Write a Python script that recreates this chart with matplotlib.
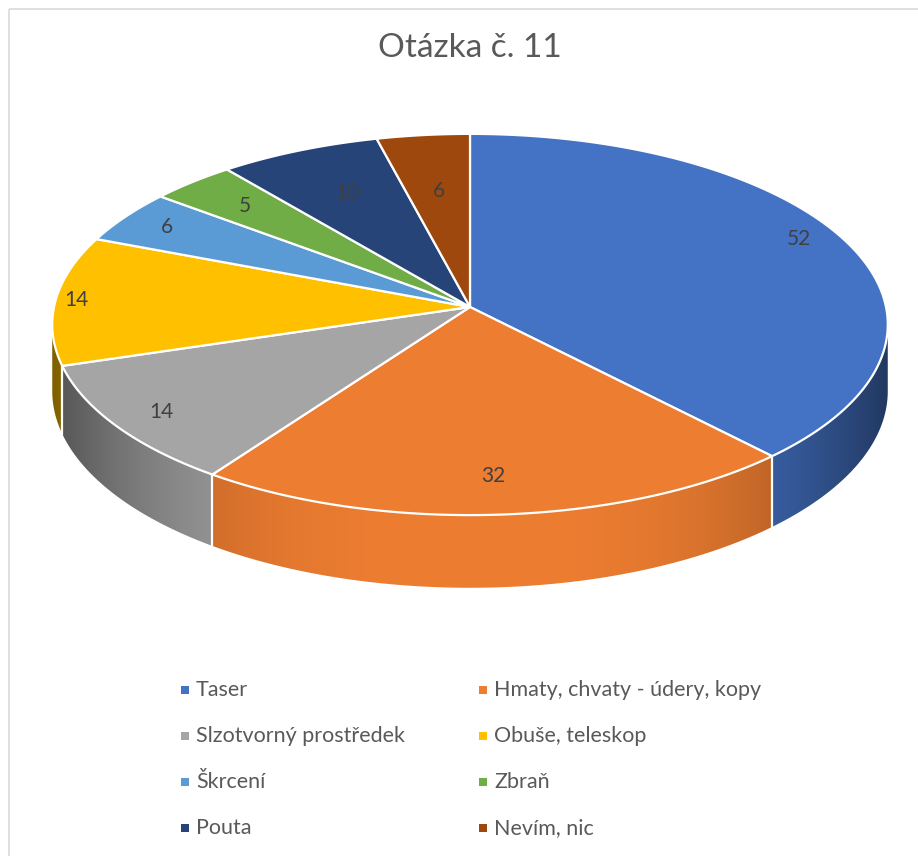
import numpy as np
import matplotlib.pyplot as plt
from matplotlib.patches import Polygon, Rectangle
from matplotlib.colors import to_rgb

# data
labels = ['Taser', 'Hmaty, chvaty - údery, kopy', 'Slzotvorný prostředek',
          'Obuše, teleskop', 'Škrcení', 'Zbraň', 'Pouta', 'Nevím, nic']
values = [52, 32, 14, 14, 6, 5, 10, 6]
colors = ['#4472C4', '#ED7D31', '#A5A5A5', '#FFC000',
          '#5B9BD5', '#70AD47', '#264478', '#9E480E']
title = 'Otázka č. 11'

plt.rcParams['font.family'] = ['Lato', 'DejaVu Sans']

W, H = 918, 856
fig = plt.figure(figsize=(W / 100, H / 100), dpi=100)
ax = fig.add_axes([0, 0, 1, 1])
ax.set_xlim(0, W)
ax.set_ylim(H, 0)
ax.axis('off')

# 3D look: simple perspective of a tilted disk
cx, cy = 470, 307
A, B = 416, 189     # horizontal / depth radius in pixels
k = 0.0918          # perspective strength
D = 66              # wall height


def warp(t):
    # small angular correction seen in Excel's 3D pie
    return t - np.radians(2.7) * np.sin(2 * t)


def proj(t, r=1.0, z=0.0):
    X = r * np.sin(t)
    Y = -r * np.cos(t)
    s = 1.0 / (1.0 - k * Y)
    return cx + A * X * s, cy + (B * Y + z) * s


total = sum(values)
bounds = np.concatenate([[0], np.cumsum(values)]) / total * 2 * np.pi
phis = warp(bounds)

# horizontal shading for the walls
xpix = np.arange(W) + 0.5
shade = 1 - 0.5 * np.clip(np.abs(xpix - cx) / A, 0, 1) ** 3

# side walls (front half only)
lo, hi = np.pi / 2 + np.arcsin(k), 1.5 * np.pi - np.arcsin(k)
for i, c in enumerate(colors):
    a0, a1 = max(phis[i], lo), min(phis[i + 1], hi)
    if a1 <= a0:
        continue
    ts = np.linspace(a0, a1, 200)
    xt, yt = proj(ts)
    xb, yb = proj(ts[::-1], z=D)
    poly = Polygon(list(zip(xt, yt)) + list(zip(xb, yb)), closed=True,
                   facecolor='none', edgecolor='none')
    ax.add_patch(poly)
    img = np.tile((shade[:, None] * np.array(to_rgb(c)))[None, :, :], (2, 1, 1))
    im = ax.imshow(img, extent=[0, W, H, 0], aspect='auto',
                   interpolation='bilinear', zorder=1)
    im.set_clip_path(poly)
# white seams between walls
for p in phis[1:-1]:
    if lo < p < hi:
        x0, y0 = proj(p)
        x1, y1 = proj(p, z=D)
        ax.plot([x0, x1], [y0, y1], color='white', lw=1.6, zorder=2)
ax.set_xlim(0, W)
ax.set_ylim(H, 0)

# top face
for i, c in enumerate(colors):
    ts = np.linspace(phis[i], phis[i + 1], 200)
    xs, ys = proj(ts)
    pts = [(cx, cy)] + list(zip(xs, ys))
    ax.add_patch(Polygon(pts, closed=True, facecolor=c, edgecolor='white',
                         lw=1.6, joinstyle='round', zorder=3))

# data labels
mids = warp((bounds[:-1] + bounds[1:]) / 2)
for v, t in zip(values, mids):
    r = 0.65 + 0.3 * np.sin(t) ** 2 + 0.18 * max(0.0, -np.cos(t)) ** 3
    lx, ly = proj(t, r)
    ax.text(lx, ly, str(v), ha='center', va='center', fontsize=15,
            color='#404040', zorder=5)

# title
ax.text(470, 48, title, ha='center', va='center', fontsize=24,
        color='#595959')

# legend
for i, (lab, c) in enumerate(zip(labels, colors)):
    col, row = i % 2, i // 2
    x0 = [185, 483][col]
    y0 = 690 + row * 46
    ax.add_patch(Rectangle((x0 - 4, y0 - 4), 8, 8, facecolor=c,
                           edgecolor='none'))
    ax.text(x0 + 11, y0, lab, ha='left', va='center', fontsize=15.5,
            color='#595959')

# chart border
ax.add_patch(Rectangle((9, 9), W, H, facecolor='none', edgecolor='#D9D9D9',
                       lw=1.2))

fig.savefig('out.png', dpi=100)
